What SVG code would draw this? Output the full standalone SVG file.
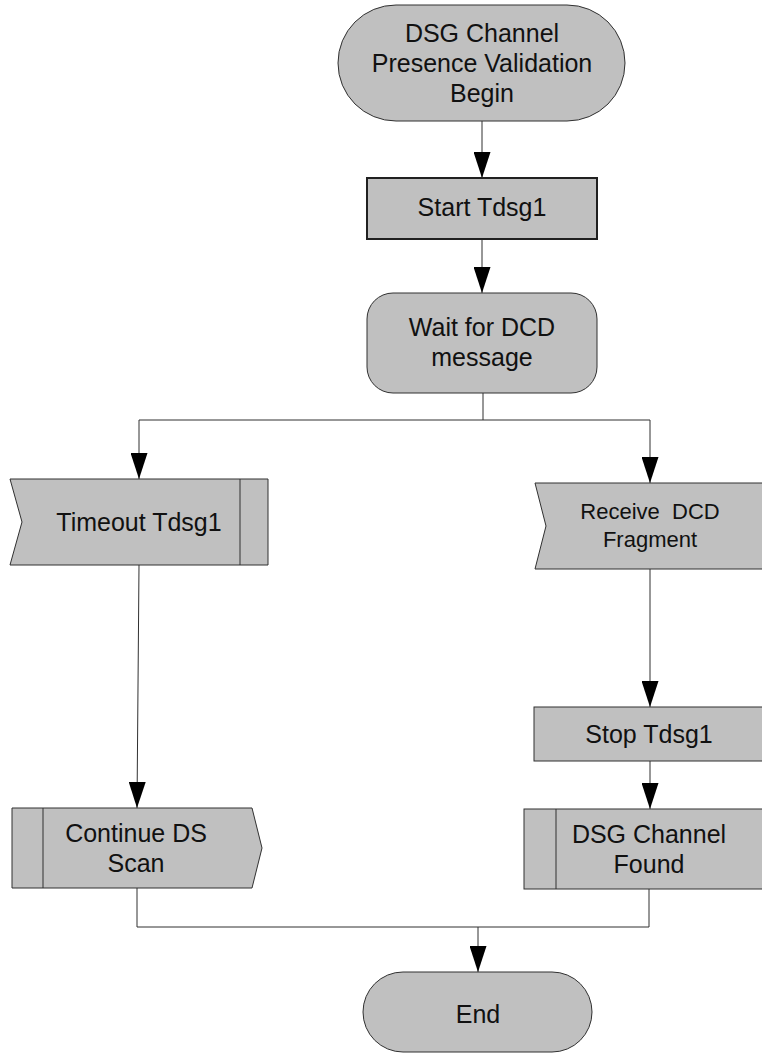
<svg xmlns="http://www.w3.org/2000/svg" width="762" height="1057" viewBox="0 0 762 1057">
<style>
.n{fill:#c0c0c0;stroke:#303030;stroke-width:1}
.thick{fill:#c0c0c0;stroke:#202020;stroke-width:2}
.l{fill:none;stroke:#303030;stroke-width:1}
.c{fill:none;stroke:#303030;stroke-width:1}
text{font-family:"Liberation Sans",Arial,sans-serif;font-size:25px;fill:#111;text-anchor:middle}
.s{font-size:22px}
</style>
<defs>
<marker id="ah" markerUnits="userSpaceOnUse" viewBox="0 0 26 17" refX="26" refY="8.5" markerWidth="26" markerHeight="17" orient="auto">
<path d="M0,0 L26,8.5 L0,17 z" fill="#000"/>
</marker>
</defs>
<g id="connectors">
<path class="c" d="M482,121 L482,178" marker-end="url(#ah)"/>
<path class="c" d="M482,239 L482,293" marker-end="url(#ah)"/>
<path class="c" d="M483,393 L483,420"/>
<path class="c" d="M139,420 L650,420"/>
<path class="c" d="M139,420 L139,479" marker-end="url(#ah)"/>
<path class="c" d="M650,420 L650,483" marker-end="url(#ah)"/>
<path class="c" d="M139,565 L137,808" marker-end="url(#ah)"/>
<path class="c" d="M650,569 L650,707" marker-end="url(#ah)"/>
<path class="c" d="M650,761 L650,809" marker-end="url(#ah)"/>
<path class="c" d="M137,888 L137,927 L649,927 L649,889"/>
<path class="c" d="M478,927 L478,972" marker-end="url(#ah)"/>
</g>
<g id="begin">
<rect class="n" x="338" y="5" width="287" height="116" rx="58" ry="58"/>
<text x="482" y="42">DSG Channel</text>
<text x="482" y="72">Presence Validation</text>
<text x="482" y="102">Begin</text>
</g>
<g id="start">
<rect class="thick" x="367" y="178" width="230" height="61"/>
<text x="482" y="216">Start Tdsg1</text>
</g>
<g id="wait">
<rect class="n" x="367" y="293" width="230" height="100" rx="26" ry="26"/>
<text x="482" y="336">Wait for DCD</text>
<text x="482" y="366">message</text>
</g>
<g id="timeout">
<polygon class="n" points="10,479 268,479 268,565 10,565 22,522"/>
<line class="l" x1="240" y1="479" x2="240" y2="565"/>
<text x="139" y="531">Timeout Tdsg1</text>
</g>
<g id="receive">
<polygon class="n" points="535,483 766,483 766,569 535,569 546,526"/>
<text class="s" x="650" y="519" xml:space="preserve">Receive  DCD</text>
<text class="s" x="650" y="547">Fragment</text>
</g>
<g id="continue">
<polygon class="n" points="12,808 252,808 262,848 252,888 12,888"/>
<line class="l" x1="43" y1="808" x2="43" y2="888"/>
<text x="136" y="842">Continue DS</text>
<text x="136" y="872">Scan</text>
</g>
<g id="stop">
<rect class="n" x="534" y="707" width="232" height="54"/>
<text x="649" y="743">Stop Tdsg1</text>
</g>
<g id="found">
<rect class="n" x="524" y="809" width="242" height="80"/>
<line class="l" x1="556" y1="809" x2="556" y2="889"/>
<text x="649" y="843">DSG Channel</text>
<text x="649" y="873">Found</text>
</g>
<g id="end">
<rect class="n" x="363" y="972" width="229" height="80" rx="40" ry="40"/>
<text x="478" y="1023">End</text>
</g>
</svg>
